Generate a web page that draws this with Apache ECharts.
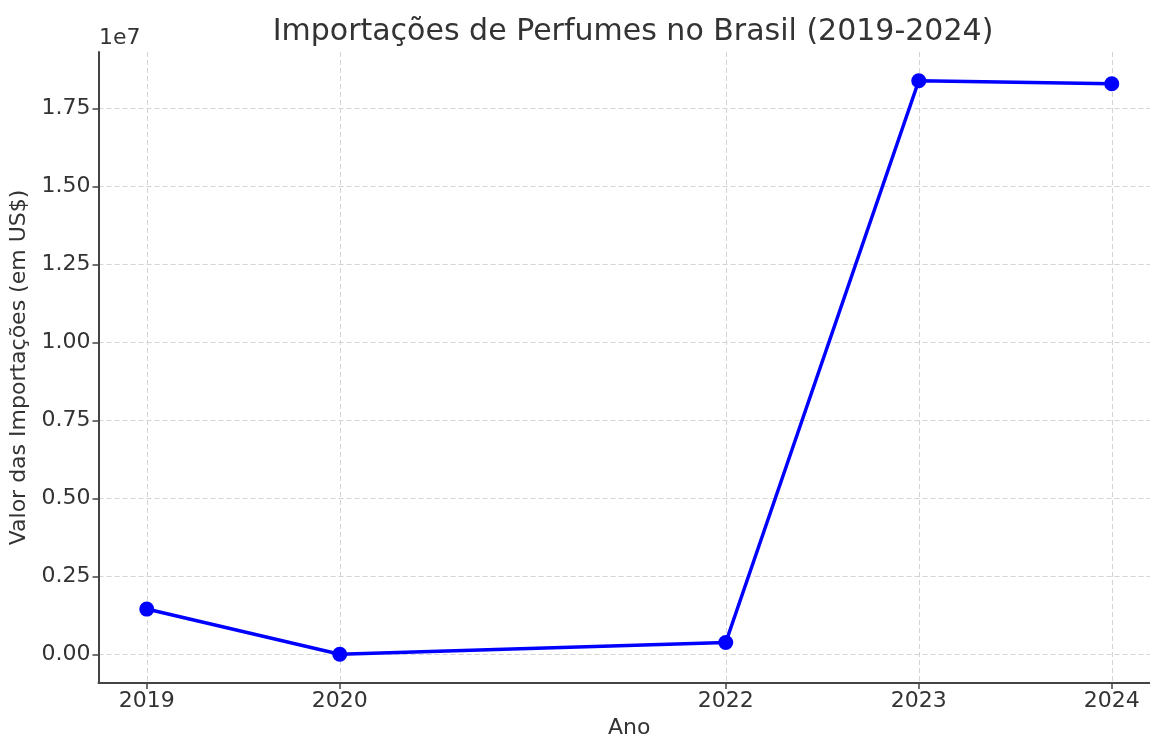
<!DOCTYPE html>
<html>
<head>
<meta charset="utf-8">
<script src="https://cdn.jsdelivr.net/npm/echarts@6/dist/echarts.min.js"></script>
<style>html,body{margin:0;padding:0;background:#fff}#c{width:1150px;height:738px}</style>
</head>
<body>
<div id="c"></div>
<script>
const years = [2019, 2020, 2022, 2023, 2024];
const values = [1450000, 0, 380000, 18390000, 18290000];
const yTicks = [0, 2500000, 5000000, 7500000, 10000000, 12500000, 15000000, 17500000];
const xTicks = [2019, 2020, 2022, 2023, 2024];
const titleText = 'Importações de Perfumes no Brasil (2019-2024)';
const xName = 'Ano';
const yName = 'Valor das Importações (em US$)';
const offsetText = '1e7';

const FONT = 'DejaVu Sans';
const chart = echarts.init(document.getElementById('c'), null, {renderer: 'canvas'});
chart.setOption({
  animation: false,
  backgroundColor: '#fff',
  title: {
    text: titleText,
    left: 628, top: 12,
    textAlign: 'center',
    textStyle: {fontFamily: FONT, fontSize: 30, fontWeight: 'normal', color: '#333'}
  },
  graphic: [{
    type: 'text', left: 99, top: 27,
    style: {text: offsetText, font: '22px "DejaVu Sans"', fill: '#333'}
  }],
  grid: {left: 98.5, right: -10, top: 52, bottom: 55, containLabel: false, outerBoundsMode: 'none'},
  xAxis: {
    type: 'value', min: 2018.75, max: 2024.25,
    name: xName, nameLocation: 'middle', nameGap: 34,
    nameTextStyle: {fontFamily: FONT, fontSize: 22, color: '#333'},
    axisLine: {show: true, onZero: false, lineStyle: {color: '#444', width: 2}},
    axisTick: {show: true, inside: false, length: 6, customValues: xTicks, lineStyle: {color: '#444', width: 1.5}},
    axisLabel: {customValues: xTicks, fontFamily: FONT, fontSize: 22, color: '#333', margin: 7,
      formatter: v => String(v)},
    splitLine: {show: true, lineStyle: {color: '#d3d3d3', type: [5, 3], width: 1}}
  },
  yAxis: {
    type: 'value', min: -920000, max: 19310000,
    name: yName, nameLocation: 'middle', nameGap: 68, nameRotate: 90,
    nameTextStyle: {fontFamily: FONT, fontSize: 22, color: '#333'},
    axisLine: {show: true, onZero: false, lineStyle: {color: '#444', width: 2}},
    axisTick: {show: true, inside: false, length: 6, customValues: yTicks, lineStyle: {color: '#444', width: 1.5}},
    axisLabel: {customValues: yTicks, fontFamily: FONT, fontSize: 22, color: '#333', margin: 8,
      formatter: v => (v / 1e7).toFixed(2)},
    splitLine: {show: true, lineStyle: {color: '#d3d3d3', type: [5, 3], width: 1}}
  },
  series: [{
    type: 'line',
    data: years.map((y, i) => [y, values[i]]),
    lineStyle: {color: '#0000ff', width: 3.5},
    itemStyle: {color: '#0000ff'},
    symbol: 'circle', symbolSize: 15, showSymbol: true,
    z: 5
  }]
});
</script>
</body>
</html>
